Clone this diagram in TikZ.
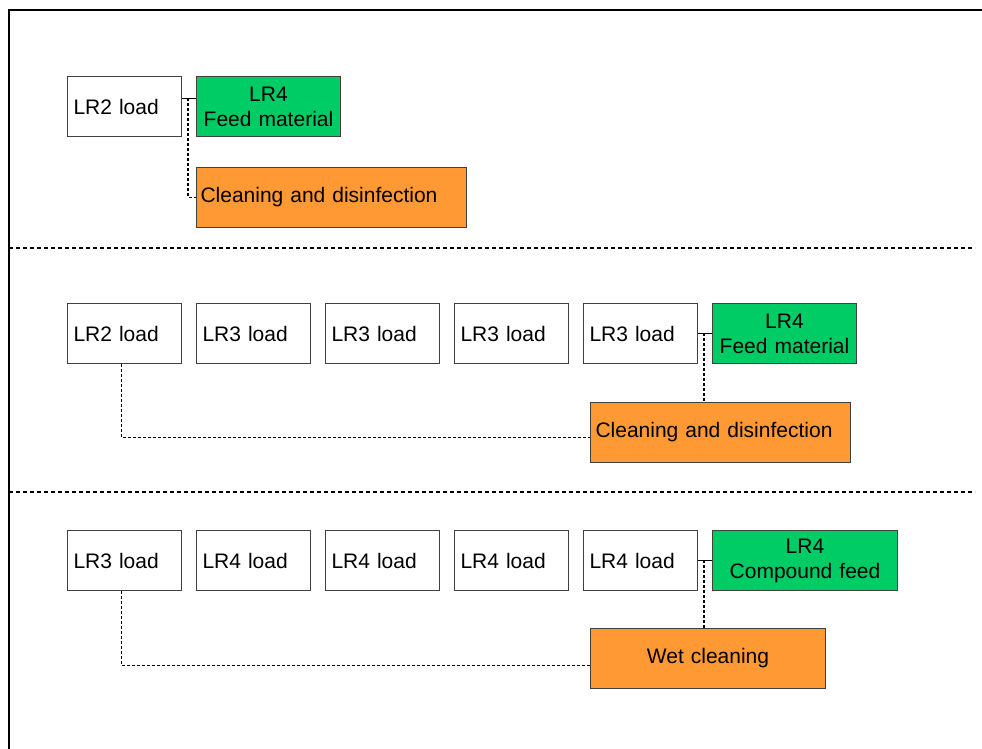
\documentclass[tikz,border=0pt]{standalone}
\usepackage{fontspec}
\setmainfont{Liberation Sans}
\usetikzlibrary{positioning}
\definecolor{feedgreen}{RGB}{0,204,102}
\definecolor{cleanorange}{RGB}{255,153,51}

\begin{document}
\begin{tikzpicture}[x=1pt, y=-1pt,
		font=\fontsize{21}{25}\selectfont,
		box/.style={draw=black!75, line width=1pt, rectangle, anchor=north west, minimum height=60pt, inner xsep=6pt, inner ysep=0pt},
		loadbox/.style={box, fill=white, text width=102pt, align=left},
		feedbox/.style={box, fill=feedgreen, align=center},
		cleanbox/.style={box, fill=cleanorange},
		link/.style={line width=1.5pt, dash pattern=on 3pt off 2pt},
		sep/.style={line width=1.3pt, dash pattern=on 4pt off 3pt}]
				\useasboundingbox (0,0) rectangle (982,749);
				\draw[line width=1.3pt] (9,749) -- (9,10) -- (982,10);
				\draw[sep] (9,248) -- (975,248);
				\draw[sep] (9,492) -- (975,492);
				% top row
				\node[loadbox] (tload)at(67, 76) {LR2 load};
				\node[feedbox, text width=132pt, right=14pt of tload] (tfeed) {LR4\\Feed material};
				\node[cleanbox, text width=262pt, inner xsep=4pt, align=left] (tclean)at(196, 167) {Cleaning and disinfection};
				\coordinate (tjoin)at(188, 98);
				\draw[line width=1pt] ([yshift=8pt]tload.east) -- ([yshift=8pt]tfeed.west);
				\draw[link] (tjoin) |- (tclean.west);
				% middle row
				\node[loadbox] (m1)at(67, 303) {LR2 load};
				\node[loadbox, right=14pt of m1] (m2) {LR3 load};
				\node[loadbox, right=14pt of m2] (m3) {LR3 load};
				\node[loadbox, right=14pt of m3] (m4) {LR3 load};
				\node[loadbox, right=14pt of m4] (m5) {LR3 load};
				\node[feedbox, text width=132pt, right=14pt of m5] (mfeed) {LR4\\Feed material};
				\node[cleanbox, text width=250pt, inner xsep=5pt, align=left] (mclean)at(590, 402) {Cleaning and disinfection};
				\coordinate (mjoin)at(704, 333);
				\draw[line width=1pt] (m5.east) -- (mfeed.west);
				\draw[link] (mjoin) -- (mjoin |- mclean.north);
				\draw[link] ([xshift=-3pt]m1.south) |- ([yshift=-5pt]mclean.west);
				% bottom row
				\node[loadbox] (b1)at(67, 530) {LR3 load};
				\node[loadbox, right=14pt of b1] (b2) {LR4 load};
				\node[loadbox, right=14pt of b2] (b3) {LR4 load};
				\node[loadbox, right=14pt of b3] (b4) {LR4 load};
				\node[loadbox, right=14pt of b4] (b5) {LR4 load};
				\node[feedbox, text width=173pt, right=14pt of b5] (bfeed) {LR4\\Compound feed};
				\node[cleanbox, text width=223pt, align=center] (bclean)at(590, 628) {Wet cleaning};
				\coordinate (bjoin)at(704, 560);
				\draw[line width=1pt] (b5.east) -- (bfeed.west);
				\draw[link] (bjoin) -- (bjoin |- bclean.north);
				\draw[link] ([xshift=-3pt]b1.south) |- ([yshift=-7pt]bclean.west);
			\end{tikzpicture}
\end{document}
